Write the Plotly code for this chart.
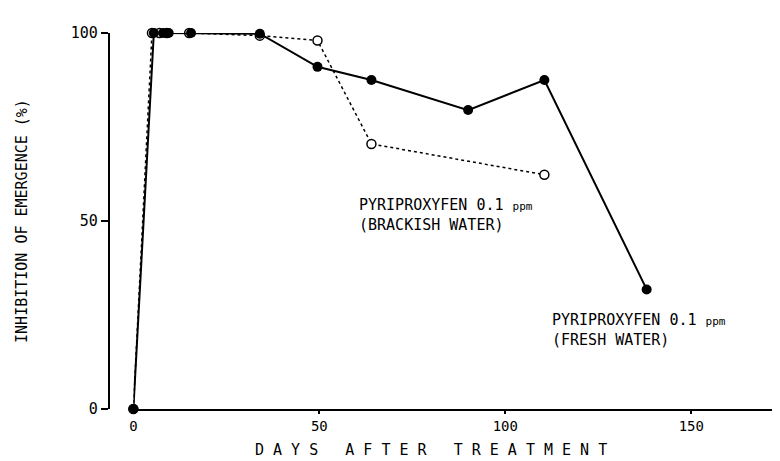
import plotly.graph_objects as go

# Data
fresh_days = [0, 5.5, 8, 9.5, 15.5, 34, 49.5, 64, 90, 110.5, 138]
fresh_inhib = [0, 100, 100, 100, 100, 99.8, 91, 87.5, 79.5, 87.5, 31.8]

brackish_days = [0, 5, 7, 9, 15, 34, 49.5, 64, 110.5]
brackish_inhib = [0, 100, 100, 100, 100, 99.3, 98, 70.5, 62.3]

x_ticks = [0, 50, 100, 150]
y_ticks = [0, 50, 100]

FONT = "DejaVu Sans Mono"
W, H = 780, 461

fig = go.Figure()
fig.add_trace(go.Scatter(
    x=brackish_days, y=brackish_inhib, mode="lines+markers",
    line=dict(color="black", width=1.5, dash="dot"),
    marker=dict(symbol="circle", size=9, color="white",
                line=dict(color="black", width=1.5)),
    cliponaxis=False, showlegend=False))
fig.add_trace(go.Scatter(
    x=fresh_days, y=fresh_inhib, mode="lines+markers",
    line=dict(color="black", width=2),
    marker=dict(symbol="circle", size=10, color="black"),
    cliponaxis=False, showlegend=False))

fig.update_layout(
    width=W, height=H,
    margin=dict(l=0, r=0, t=25, b=60),
    paper_bgcolor="white", plot_bgcolor="white",
    font=dict(family=FONT, color="black", size=15),
    xaxis=dict(domain=[122 / W, 1], range=[0, 176], showgrid=False,
               zeroline=False, showline=True, linecolor="black", linewidth=1.5,
               ticks="outside", ticklen=3, tickwidth=1.5, tickcolor="black",
               tickvals=x_ticks, ticktext=[str(v) for v in x_ticks],
               tickfont=dict(family=FONT, size=14)),
    yaxis=dict(anchor="free", position=97 / W, range=[0, 100], showgrid=False,
               zeroline=False, showline=True, linecolor="black", linewidth=1.5,
               ticks="outside", ticklen=7, tickwidth=1.5, tickcolor="black",
               tickvals=y_ticks, ticktext=[str(v) for v in y_ticks],
               tickfont=dict(family=FONT, size=15)),
)

fig.add_annotation(text="D A Y S   A F T E R   T R E A T M E N T",
                   xref="x", yref="paper", x=80, y=-0.108,
                   xanchor="center", yanchor="middle", showarrow=False,
                   font=dict(family=FONT, size=15))
fig.add_annotation(text="INHIBITION OF EMERGENCE (%)",
                   xref="paper", yref="y", x=10 / W, y=50, textangle=-90,
                   xanchor="center", yanchor="middle", showarrow=False,
                   font=dict(family=FONT, size=15))
fig.add_annotation(text="PYRIPROXYFEN 0.1 <span style='font-size:11px'>ppm</span><br>(BRACKISH WATER)",
                   xref="x", yref="y", x=60, y=51.5, xanchor="left", yanchor="middle",
                   align="left", showarrow=False, font=dict(family=FONT, size=15))
fig.add_annotation(text="PYRIPROXYFEN 0.1 <span style='font-size:11px'>ppm</span><br>(FRESH WATER)",
                   xref="x", yref="y", x=112, y=21, xanchor="left", yanchor="middle",
                   align="left", showarrow=False, font=dict(family=FONT, size=15))

fig.write_html("out.html")
